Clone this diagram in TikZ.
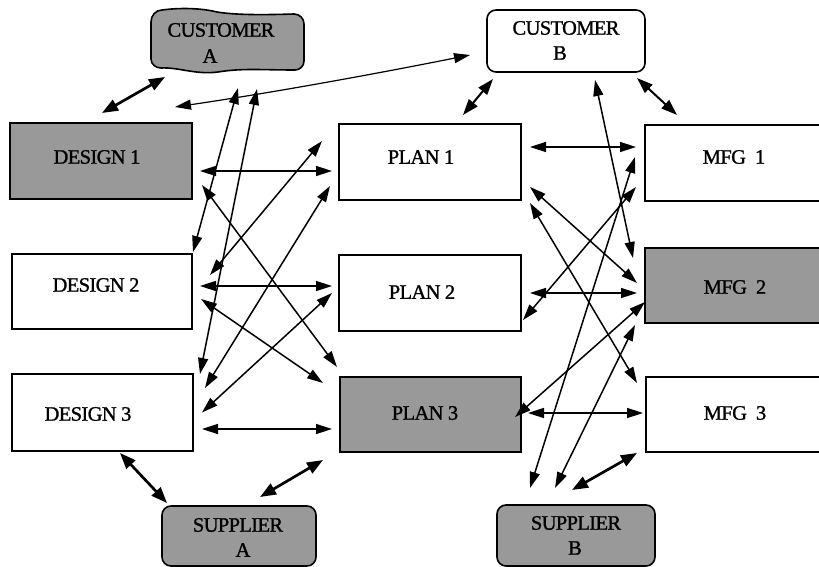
\documentclass[tikz,border=0pt]{standalone}
\usepackage{fontspec}
\setmainfont{Liberation Serif}
\newfontfamily\unitfont{Liberation Serif}[LetterSpace=-3,FakeBold=1.2]
\usetikzlibrary{arrows.meta}
\definecolor{boxgray}{gray}{0.6}
\begin{document}
\begin{tikzpicture}[x=1pt,y=-1pt,
  unit/.style={draw=black, line width=1.6pt, inner sep=0pt, outer sep=0pt},
  shaded/.style={fill=boxgray},
  party/.style={rounded corners=9pt},
  lbl/.style={font=\unitfont\fontsize{20.5}{24}\selectfont, inner sep=0pt},
  link/.style={line width=1.5pt, {Triangle[length=16pt,width=10pt]}-{Triangle[length=16pt,width=10pt]}},
  medium/.style={line width=2pt, {Triangle[length=16pt,width=11pt]}-{Triangle[length=16pt,width=11pt]}},
  heavy/.style={line width=2.7pt, {Triangle[length=16pt,width=12pt]}-{Triangle[length=16pt,width=12pt]}}]
\useasboundingbox (0,0) rectangle (819,567);

% design, plan and manufacturing units
\node[unit, shaded, minimum width=182pt, minimum height=76pt] (d1) at (101,161) {};
\node[unit, minimum width=180pt, minimum height=75pt] (d2) at (102,291.5) {};
\node[unit, minimum width=181pt, minimum height=77pt] (d3) at (102.5,412.5) {};
\node[unit, minimum width=182pt, minimum height=76pt] (p1) at (430,162) {};
\node[unit, minimum width=182pt, minimum height=76pt] (p2) at (430,293) {};
\node[unit, shaded, minimum width=181pt, minimum height=75pt] (p3) at (430.5,414.5) {};
\node[unit, minimum width=178pt, minimum height=76pt] (m1) at (734,163) {};
\node[unit, shaded, minimum width=178pt, minimum height=75pt] (m2) at (734,285.5) {};
\node[unit, minimum width=177pt, minimum height=75pt] (m3) at (734.5,414.5) {};

% customers and suppliers
\node[inner sep=0pt, outer sep=0pt, minimum width=155pt, minimum height=62pt] (ca) at (227.5,40) {};
\filldraw[line width=1.6pt, fill=boxgray]
  (151,22) to[out=90,in=180] (162,10)
  .. controls (185,7) and (205,9) .. (217,12)
  .. controls (235,15) and (262,15) .. (294,14)
  to[out=0,in=90] (304,24) -- (304,61)
  to[out=-90,in=0] (295,70)
  .. controls (262,70) and (242,68) .. (218,72)
  .. controls (196,75) and (178,67) .. (161,68)
  to[out=180,in=-90] (151,59) -- cycle;
\node[unit, party, minimum width=158pt, minimum height=62pt] (cb) at (566,41) {};
\node[unit, party, shaded, minimum width=154pt, minimum height=60pt] (sa) at (239,536) {};
\node[unit, party, shaded, minimum width=158pt, minimum height=61pt] (sb) at (576,535.5) {};

% texts
\node[lbl] (d1t) at (97,157) {DESIGN 1};
\node[lbl] (d2t) at (96,285) {DESIGN 2};
\node[lbl] (d3t) at (88,414) {DESIGN 3};
\node[lbl] (p1t) at (421,157) {PLAN 1};
\node[lbl] (p2t) at (422,292) {PLAN 2};
\node[lbl] (p3t) at (425,413) {PLAN 3};
\node[lbl] (m1t) at (734,157) {MFG~~1};
\node[lbl] (m2t) at (735,287) {MFG~~2};
\node[lbl] (m3t) at (735,413) {MFG~~3};
\node[lbl] (cat1) at (221,30) {CUSTOMER};
\node[lbl] (cat2) at (210,56) {A};
\node[lbl] (cbt1) at (566,28) {CUSTOMER};
\node[lbl] (cbt2) at (560,53) {B};
\node[lbl] (sat1) at (238,525) {SUPPLIER};
\node[lbl] (sat2) at (243,550) {A};
\node[lbl] (sbt1) at (576,523) {SUPPLIER};
\node[lbl] (sbt2) at (575,548) {B};

% design <-> plan links
\draw[link] ([shift={(8,10)}]d1.east) -- ([shift={(-7,9)}]p1.west);
\draw[link] ([shift={(10,-14)}]d1.south east) -- ([shift={(-3,-10)}]p3.north west);
\draw[link] ([shift={(-17,-21)}]p1.west) -- ([shift={(18,-16.5)}]d2.east);
\draw[link] ([shift={(-9,-14)}]p1.south west) -- ([shift={(12,14)}]d3.north east);
\draw[link] ([shift={(8,-5.5)}]d2.east) -- ([shift={(-7,-7)}]p2.west);
\draw[link] ([shift={(9,7.5)}]d2.east) -- ([shift={(-17,6)}]p3.north west);
\draw[link] ([shift={(-7,0)}]p2.west) -- ([shift={(9,0)}]d3.east);
\draw[link] ([shift={(9,16.5)}]d3.east) -- ([shift={(-8,14.5)}]p3.west);

% customer A and supplier A
\draw[link] ([shift={(10.5,17)}]ca.south) -- ([shift={(1,-2)}]d2.north east);
\draw[link] ([shift={(29.5,18)}]ca.south) -- ([shift={(7,0)}]d3.north east);
\draw[heavy] ([shift={(15,6)}]ca.south west) -- ([shift={(1,-10)}]d1.north);
\draw[heavy] ([shift={(17.5,2)}]d3.south) -- ([shift={(5,-3)}]sa.north west);
\draw[heavy] ([shift={(21,-9)}]sa.north) -- ([shift={(-17,8)}]p3.south west);

% customer B
\draw[link, line width=1.2pt] ([shift={(-17,14)}]cb.west)
  .. controls +(-100,20) and +(95,-14) .. ([shift={(-17,-16)}]d1.north east);
\draw[medium] ([shift={(6,7)}]cb.south west) -- ([shift={(33,-9)}]p1.north);
\draw[medium] ([shift={(-8,6)}]cb.south east) -- ([shift={(32,-10)}]m1.north west);
\draw[link] ([shift={(29,8)}]cb.south) -- ([shift={(-12,-27.5)}]m2.west);

% plan <-> manufacturing links
\draw[link] ([shift={(9,-15)}]p1.east) -- ([shift={(-9,-16)}]m1.west);
\draw[link] ([shift={(-10,-6)}]m1.west) -- ([shift={(-46,-17)}]sb.north);
\draw[link] ([shift={(-9,-14)}]m1.south west) -- ([shift={(2,-11)}]p2.south east);
\draw[link] ([shift={(9,-13)}]p1.south east) -- ([shift={(-8,-2.5)}]m2.west);
\draw[link] ([shift={(9,3)}]p1.south east) -- ([shift={(-9,6)}]m3.north west);
\draw[link] ([shift={(9,0)}]p2.east) -- ([shift={(-8,7.5)}]m2.west);
\draw[link] ([shift={(0,16.5)}]m2.west) -- ([shift={(-6,2.5)}]p3.east);
\draw[link] ([shift={(-10,2)}]m2.south west) -- ([shift={(-21,-17)}]sb.north);
\draw[link] ([shift={(7,-1.5)}]p3.east) -- ([shift={(-3,-1.5)}]m3.west);
\draw[heavy] ([shift={(-9,1)}]m3.south west) -- ([shift={(-4,-15)}]sb.north);
\end{tikzpicture}
\end{document}
